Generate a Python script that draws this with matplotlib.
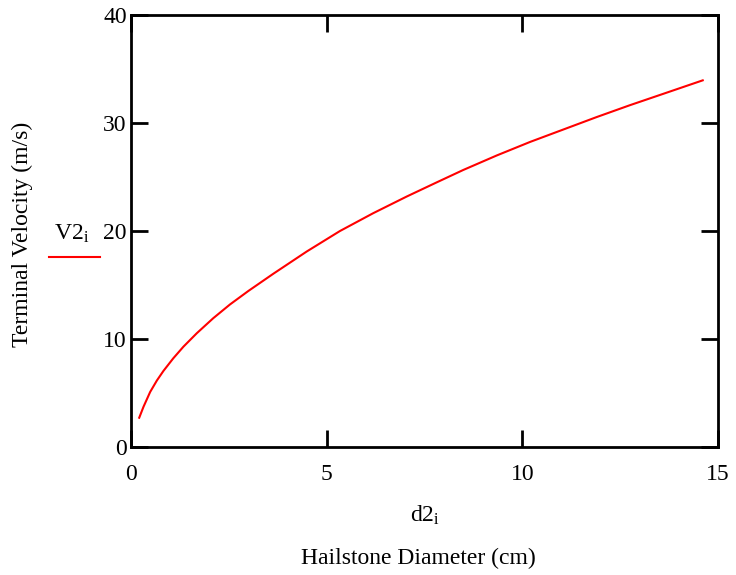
import matplotlib
matplotlib.use('Agg')
import matplotlib.pyplot as plt
from matplotlib.lines import Line2D

# values
diameter = [0.21, 0.32, 0.49, 0.66, 0.83, 1.08, 1.34, 1.68, 2.10, 2.53, 3.0, 3.64,
            4.49, 5.34, 6.19, 7.05, 7.81, 8.49, 9.35, 10.2, 11.05, 11.9, 12.75, 13.6, 14.61]
velocity = [2.71, 3.73, 5.1, 6.15, 7.05, 8.21, 9.29, 10.53, 11.92, 13.2, 14.45, 16.05,
            18.1, 20.0, 21.65, 23.2, 24.5, 25.65, 27.0, 28.25, 29.4, 30.55, 31.65, 32.7, 33.95]

x_ticks = [0, 5, 10, 15]
y_ticks = [0, 10, 20, 30, 40]

plt.rcParams['font.family'] = ['Liberation Serif', 'DejaVu Serif']
plt.rcParams['mathtext.fontset'] = 'custom'
plt.rcParams['mathtext.rm'] = 'Liberation Serif'
plt.rcParams['mathtext.it'] = 'Liberation Serif'

fig = plt.figure(figsize=(7.36, 5.75), dpi=100)
ax = fig.add_axes([131 / 736, 1 - 447 / 575, 587 / 736, 432 / 575])

ax.plot(diameter, velocity, color='#ff0000', linewidth=1.5)

ax.set_xlim(0, 15)
ax.set_ylim(0, 40)
ax.set_xticks(x_ticks)
ax.set_yticks(y_ticks)
ax.tick_params(direction='in', length=12, width=2, top=True, right=True,
               labelsize=17, colors='black')
ax.tick_params(axis='x', pad=12)
ax.tick_params(axis='y', pad=3)
for s in ax.spines.values():
    s.set_linewidth(2)

fig.text(425 / 736, 1 - 515 / 575, r'$\mathrm{d2_i}$', ha='center', va='center', fontsize=17)
fig.text(418 / 736, 1 - 558 / 575, 'Hailstone Diameter (cm)', ha='center', va='center', fontsize=17)
fig.text(22 / 736, 1 - 234 / 575, 'Terminal Velocity (m/s)', ha='center', va='center',
         rotation=90, fontsize=17)
fig.text(72 / 736, 1 - 234 / 575, r'$\mathrm{V2_i}$', ha='center', va='center', fontsize=17)
fig.add_artist(Line2D([49 / 736, 100 / 736], [1 - 257 / 575, 1 - 257 / 575],
                      color='#ff0000', linewidth=1.5, transform=fig.transFigure))

plt.savefig('out.png', dpi=100)
